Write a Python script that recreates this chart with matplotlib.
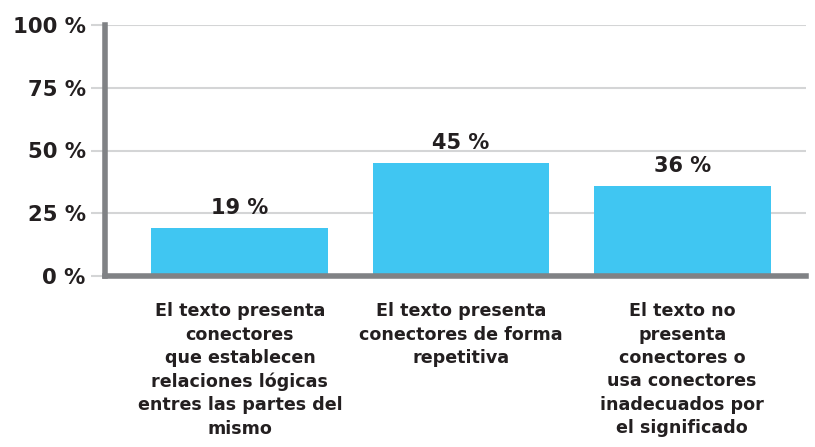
import matplotlib.pyplot as plt
import numpy as np

# Datos del gráfico
categorias = [
    "El texto presenta\nconectores\nque establecen\nrelaciones lógicas\nentres las partes del\nmismo",
    "El texto presenta\nconectores de forma\nrepetitiva",
    "El texto no\npresenta\nconectores o\nusa conectores\ninadecuados por\nel significado",
]
porcentajes = [19, 45, 36]
ticks_y = [0, 25, 50, 75, 100]

color_barra = "#40c6f2"
color_texto = "#231f20"
color_eje = "#808285"
color_grid = "#d4d5d6"

plt.rcParams["font.family"] = ["DejaVu Sans"]

fig = plt.figure(figsize=(8.15, 4.47), dpi=100)
ax = fig.add_axes([105 / 815, 171 / 447, 701 / 815, 251 / 447])

x = np.arange(len(porcentajes))
ax.bar(x, porcentajes, width=0.8, color=color_barra, zorder=3)

# Etiquetas de valor encima de cada barra
for xi, v in zip(x, porcentajes):
    ax.text(xi, v + 4, f"{v} %", ha="center", va="bottom",
            fontsize=15, fontweight="bold", color=color_texto)

ax.set_xlim(-0.61, 2.56)
ax.set_ylim(0, 100)
ax.set_yticks(ticks_y)
ax.set_yticklabels([f"{t} %" for t in ticks_y], fontsize=15.3,
                   fontweight="bold", color=color_texto)
ax.tick_params(axis="y", length=10, width=1.5, color=color_grid, pad=4)

ax.set_xticks(x)
ax.set_xticklabels(categorias, fontsize=12.6, fontweight="bold",
                   color=color_texto, linespacing=1.38, va="top")
ax.tick_params(axis="x", length=0, pad=19)

ax.grid(axis="y", color=color_grid, linewidth=1.5, zorder=0)
ax.set_axisbelow(True)

for lado in ["top", "right"]:
    ax.spines[lado].set_visible(False)
for lado in ["left", "bottom"]:
    ax.spines[lado].set_color(color_eje)
    ax.spines[lado].set_linewidth(4)
    ax.spines[lado].set_zorder(4)

fig.savefig("out.png", dpi=100)
